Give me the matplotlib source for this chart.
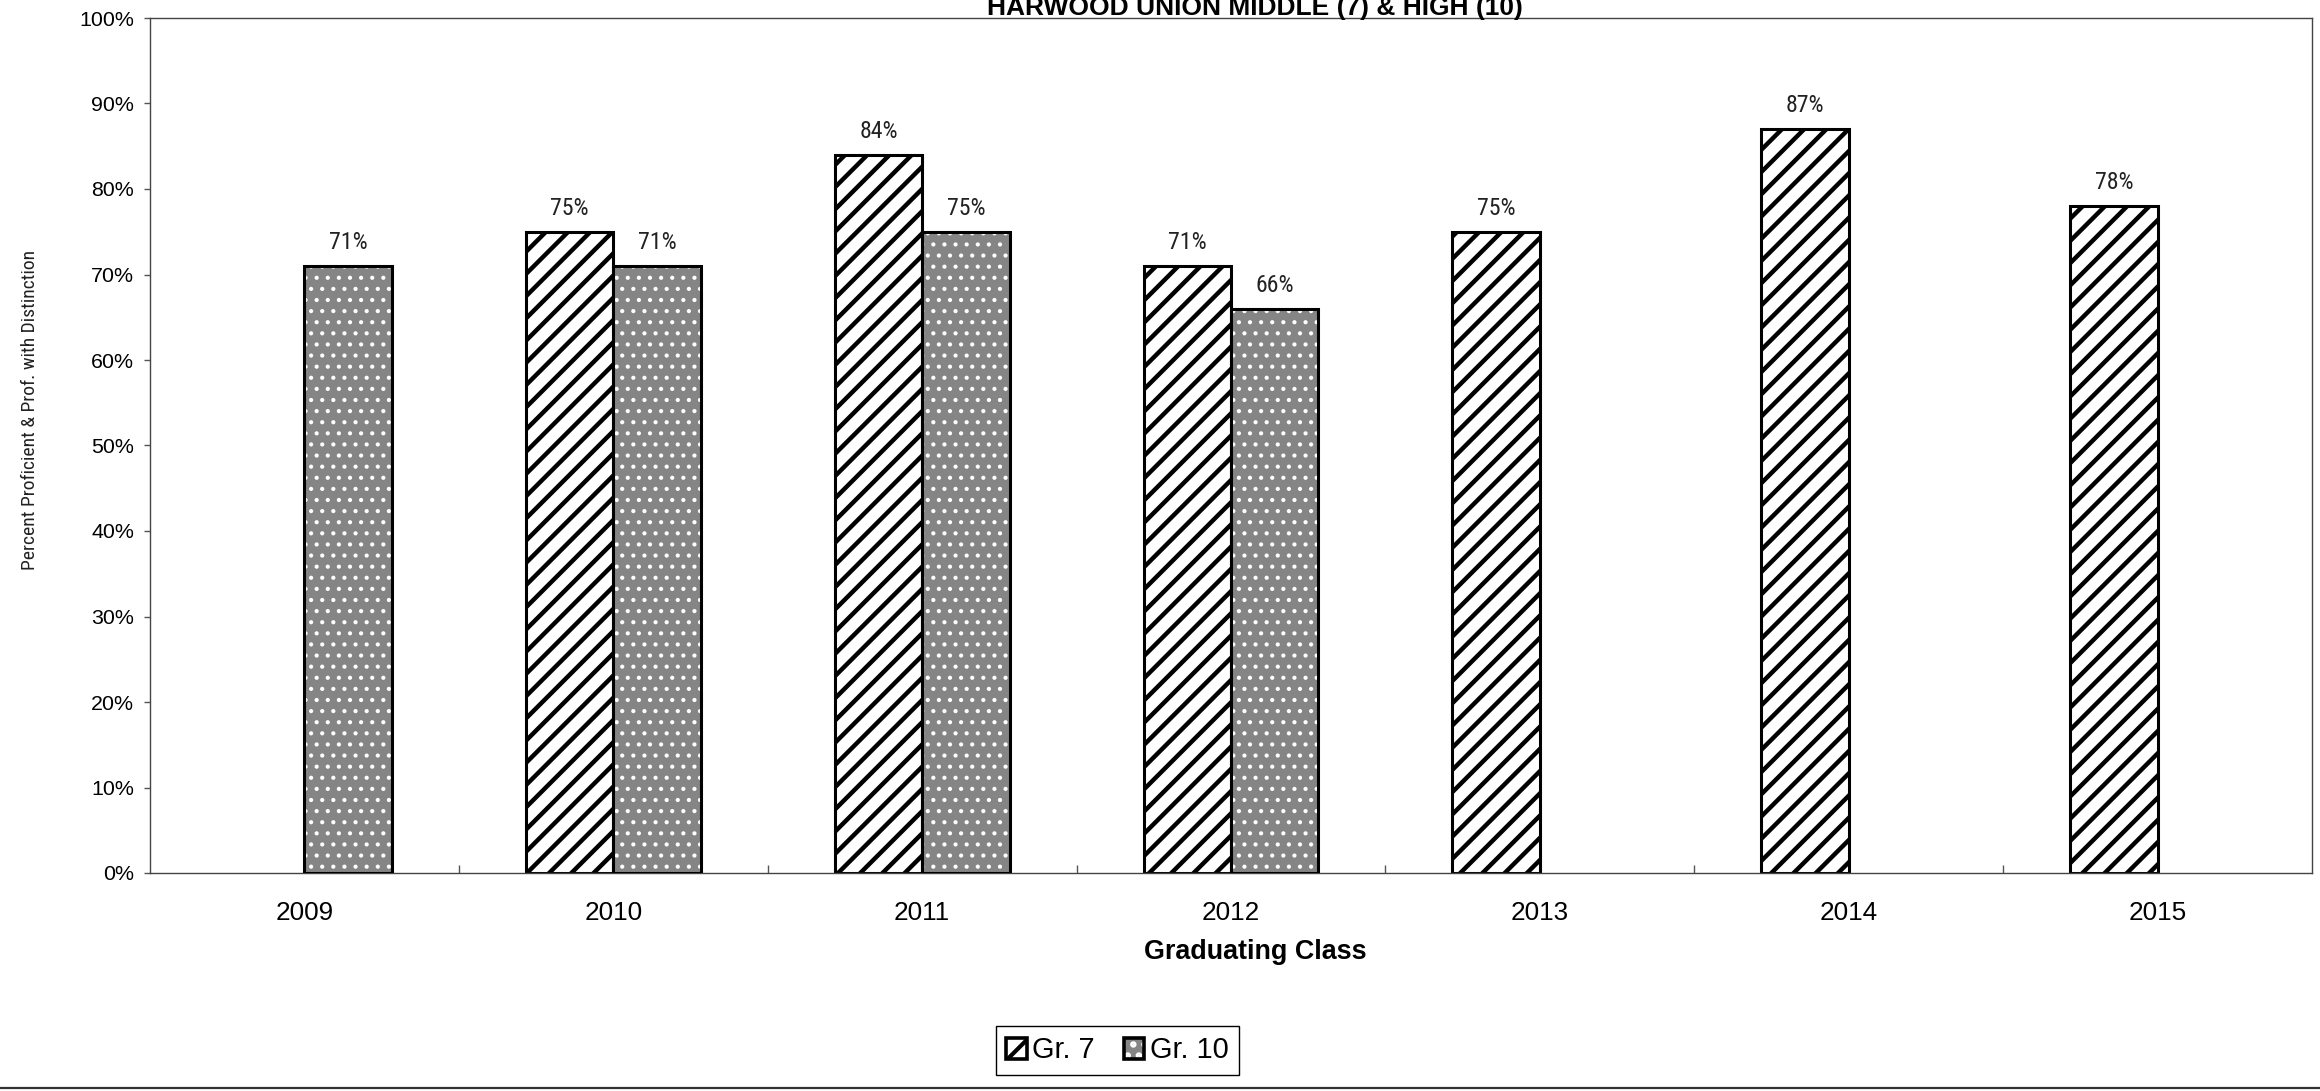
import numpy as np
import matplotlib
matplotlib.use("Agg")
import matplotlib.pyplot as plt
from matplotlib.patches import Patch
from matplotlib.lines import Line2D
from matplotlib.legend_handler import HandlerTuple
from matplotlib import font_manager

# data
years = ["2009", "2010", "2011", "2012", "2013", "2014", "2015"]
gr7 = [np.nan, 75, 84, 71, 75, 87, 78]
gr10 = [71, 71, 75, 66, np.nan, np.nan, np.nan]
yticks = list(range(0, 101, 10))

plt.rcParams['font.family'] = ['Liberation Sans', 'DejaVu Sans']
plt.rcParams['hatch.linewidth'] = 1.5

# narrow font for the small labels, if one is installed
narrow_names = [f.name for f in font_manager.fontManager.ttflist
                if 'Narrow' in f.name or 'Condensed' in f.name]
narrow = ['Liberation Sans Narrow', 'DejaVu Sans Condensed', 'Roboto Condensed',
          'Liberation Sans']
narrow_kw = dict(family=narrow)
if not narrow_names:
    narrow_kw = dict(family=['DejaVu Sans'], fontstretch='condensed')

fig = plt.figure(figsize=(11.6, 5.455), dpi=200)
ax = fig.add_axes([150/2320, 218/1091, 2162/2320, 855/1091])

x = np.arange(len(years))
w = 0.283

def hatch_lw(bars, lw):
    for b in bars:
        if hasattr(b, 'set_hatch_linewidth'):
            b.set_hatch_linewidth(lw)

# Gr. 7 - black diagonal stripes
b7 = ax.bar(x - w/2, gr7, w, facecolor='white', edgecolor='black',
            hatch='///', linewidth=1.1, zorder=2)
hatch_lw(b7, 1.6)

# Gr. 10 - grey fill with white dots, black outline drawn on top
with plt.rc_context({'hatch.linewidth': 0.7}):
    b10 = ax.bar(x + w/2, gr10, w, facecolor='#858585', edgecolor='white',
                 hatch='...', linewidth=0, zorder=2)
    hatch_lw(b10, 0.7)
b10o = ax.bar(x + w/2, gr10, w, fill=False, edgecolor='black', linewidth=1.1, zorder=3)

for xs, vals in [(x - w/2, gr7), (x + w/2, gr10)]:
    for xi, v in zip(xs, vals):
        if np.isnan(v):
            continue
        ax.annotate(f"{v:.0f}%", (xi, v), xytext=(0, 4.2), textcoords='offset points',
                    ha='center', va='bottom', fontsize=8.6, color='#222222', **narrow_kw)

ax.set_xlim(-0.5, len(years) - 0.5)
ax.set_ylim(0, 100)
ax.set_yticks(yticks)
ax.set_yticklabels([f"{t}%" for t in yticks])
ax.tick_params(axis='y', direction='out', length=2.2, width=0.5, color='#555555',
               labelsize=7.7, pad=3.5)

ax.set_xticks(x[:-1] + 0.5)
ax.set_xticklabels([])
ax.set_xticks(x, minor=True)
ax.set_xticklabels(years, minor=True)
ax.tick_params(axis='x', which='major', direction='in', length=3, width=0.5, color='#555555')
ax.tick_params(axis='x', which='minor', length=0, labelsize=9.4, pad=10)

for s in ax.spines.values():
    s.set_linewidth(0.5)
    s.set_color('#444444')

ax.set_xlabel("Graduating Class", fontsize=9.7, fontweight='bold')
ax.xaxis.set_label_coords((1255 - 150) / 2162, -0.077)

fig.text(30/2320, 1 - 410/1091, "Percent Proficient & Prof. with Distinction",
         rotation=90, ha='center', va='center', fontsize=7, color='#222222', **narrow_kw)

fig.text(1255/2320, 1 - 15/1091, "HARWOOD UNION MIDDLE (7) & HIGH (10)",
         ha='center', va='baseline', fontsize=9.5, fontweight='bold')

# legend
h7 = Patch(facecolor='white', edgecolor='black', hatch='/', linewidth=1.3)
h10a = Patch(facecolor='#858585', edgecolor='white', hatch='...', linewidth=0)
h10b = Patch(fill=False, edgecolor='black', linewidth=1.3)
leg = fig.legend([h7, (h10a, h10b)], ["Gr. 7", "Gr. 10"], loc='center',
                 bbox_to_anchor=(1117.5/2320, 1 - 1050.5/1091), ncol=2, fontsize=10.4,
                 handler_map={tuple: HandlerTuple(ndivide=1)},
                 handlelength=0.7, handleheight=0.7, handletextpad=0.2, columnspacing=1.0,
                 borderpad=0.35, fancybox=False, framealpha=1, edgecolor='black')
leg.get_frame().set_linewidth(0.5)

fig.add_artist(Line2D([0, 1], [0.0025, 0.0025], transform=fig.transFigure,
                      color='#333333', linewidth=0.8))

fig.savefig("out.png", dpi=200)
